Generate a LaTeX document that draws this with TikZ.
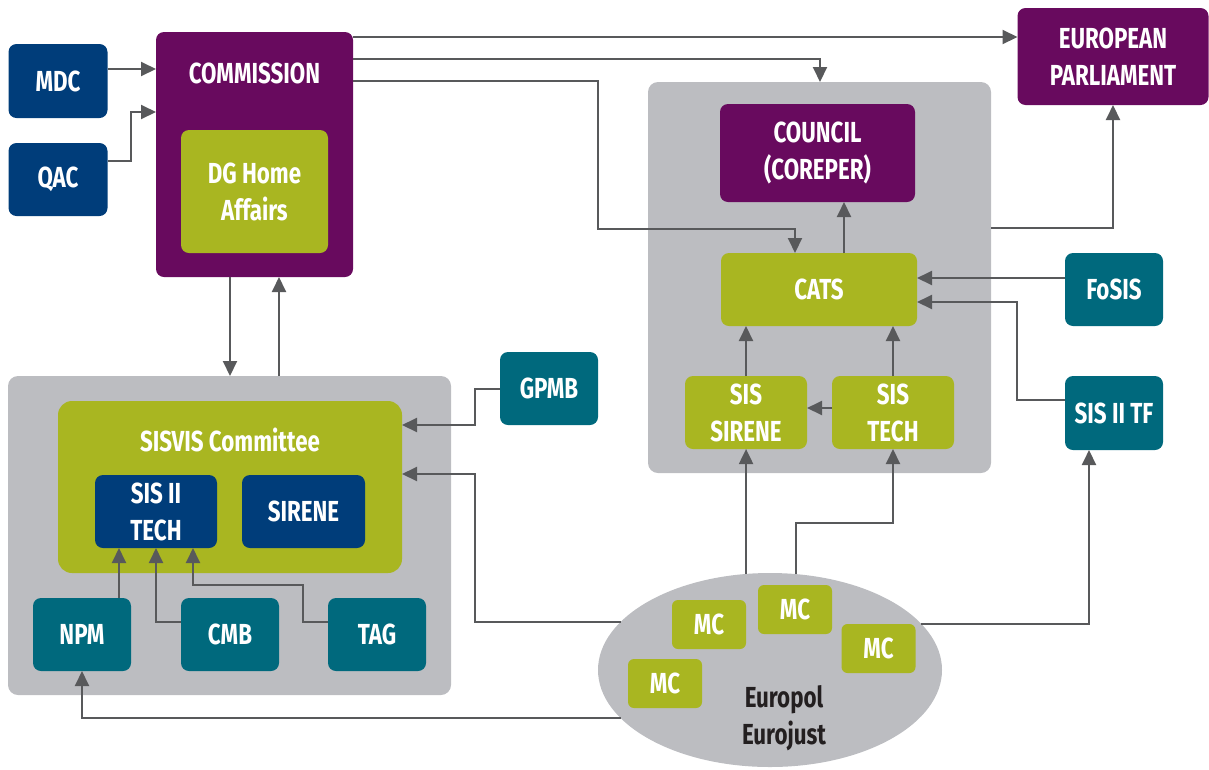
\documentclass[tikz,border=0pt]{standalone}
\usepackage{fontspec}
\setmainfont{Fira Sans}[FakeStretch=0.77]
\usetikzlibrary{arrows.meta,shapes.geometric}
\definecolor{cpurple}{RGB}{104,10,94}
\definecolor{cblue}{RGB}{0,61,122}
\definecolor{cteal}{RGB}{0,105,125}
\definecolor{cgreen}{RGB}{169,182,33}
\definecolor{cpanel}{RGB}{188,189,193}
\definecolor{cline}{RGB}{88,89,91}
\definecolor{cdark}{RGB}{35,31,32}
\newcommand\lbl{\fontsize{29}{37}\selectfont\bfseries}
\begin{document}
\begin{tikzpicture}[x=1pt,y=-1pt,
  box/.style={rounded corners=8pt, inner sep=0pt, outer sep=0pt, text=white, font=\lbl, align=center},
  pbox/.style={box, fill=cpurple},
  bbox/.style={box, fill=cblue},
  tbox/.style={box, fill=cteal},
  gbox/.style={box, fill=cgreen},
  panel/.style={rounded corners=10pt, fill=cpanel, inner sep=0pt, outer sep=0pt},
  txt/.style={inner sep=0pt, text=white, font=\lbl, align=center},
  arr/.style={draw=cline, line width=2pt, -{Triangle[length=15pt,width=14pt]}},
  mc/.style={gbox, minimum width=74pt, minimum height=49pt, rounded corners=6pt}]
\useasboundingbox (0,0) rectangle (1209,769);
% panels
\node[panel, minimum width=343pt, minimum height=391pt] (cpan) at (819.5,277.5) {};
\node[panel, minimum width=443pt, minimum height=319pt] (span) at (229.5,535.5) {};
% left top
\node[bbox, minimum width=99pt, minimum height=74pt] (mdc) at (58,81) {MDC};
\node[bbox, minimum width=99pt, minimum height=73pt] (qac) at (58,179.5) {QAC};
\node[pbox, minimum width=197pt, minimum height=245pt] (comm) at (254.5,154.5) {};
\node[txt] (commt) at (254.5,73) {COMMISSION};
\node[gbox, minimum width=147pt, minimum height=123pt] (dg) at (254.5,191.5) {DG Home\\Affairs};
% right top
\node[pbox, minimum width=191pt, minimum height=97pt] (ep) at (1113,56.5) {EUROPEAN\\PARLIAMENT};
\node[pbox, minimum width=195pt, minimum height=98pt] (council) at (817.5,153) {COUNCIL\\(COREPER)};
\node[gbox, minimum width=196pt, minimum height=73pt] (cats) at (819,289.5) {CATS};
\node[gbox, minimum width=122pt, minimum height=73pt] (sissir) at (746,412.5) {SIS\\SIRENE};
\node[gbox, minimum width=122pt, minimum height=73pt] (sistech) at (893,412.5) {SIS\\TECH};
\node[tbox, minimum width=98pt, minimum height=73pt] (fosis) at (1114,289.5) {FoSIS};
\node[tbox, minimum width=98pt, minimum height=74pt] (sistf) at (1114,413) {SIS II TF};
\node[tbox, minimum width=98pt, minimum height=73pt] (gpmb) at (549,388.5) {GPMB};
% SISVIS
\node[gbox, minimum width=344pt, minimum height=172pt, rounded corners=14pt] (sisvis) at (230,487) {};
\node[txt] (sisvist) at (230,440) {SISVIS Committee};
\node[bbox, minimum width=122pt, minimum height=73pt] (sis2) at (156,511.5) {SIS II\\TECH};
\node[bbox, minimum width=123pt, minimum height=73pt] (sirene) at (303.5,511.5) {SIRENE};
\node[tbox, minimum width=98pt, minimum height=73pt] (npm) at (82,634.5) {NPM};
\node[tbox, minimum width=98pt, minimum height=73pt] (cmb) at (230,634.5) {CMB};
\node[tbox, minimum width=98pt, minimum height=73pt] (tag) at (377,634.5) {TAG};
% ellipse
\node[ellipse, fill=cpanel, minimum width=344pt, minimum height=194pt, inner sep=0pt, outer sep=0pt] (ell) at (770,670) {};
\node[mc] (mc1) at (709,624.5) {MC};
\node[mc] (mc2) at (795,609.5) {MC};
\node[mc] (mc3) at (878.5,648.5) {MC};
\node[mc] (mc4) at (665,683.5) {MC};
\node[inner sep=0pt, text=cdark, font=\lbl, align=center] (eu) at (784,718) {Europol\\Eurojust};
% connectors
\draw[arr] (mdc.east |- 0,69) -- (comm.west |- 0,69);
\draw[arr] (qac.east |- 0,161) -- (131,161) -- (131,112) -- (comm.west |- 0,112);
\draw[arr] (comm.east |- 0,37) -- (ep.west |- 0,37);
\draw[arr] (comm.east |- 0,59) -| (cpan.north -| 820,0);
\draw[arr] (comm.east |- 0,81) -- (598,81) -- (598,229) -| (cats.north -| 795,0);
\draw[arr] (cats.north -| 844,0) -- (council.south -| 844,0);
\draw[arr] (cpan.east |- 0,228) -| (ep.south);
\draw[arr] (fosis.west |- 0,278) -- (cats.east |- 0,278);
\draw[arr] (sistf.west |- 0,400) -- (1017,400) -- (1017,302) -- (cats.east |- 0,302);
\draw[arr] (sissir.north) -- (cats.south -| sissir.north);
\draw[arr] (sistech.north) -- (cats.south -| sistech.north);
\draw[arr] (sistech.west |- 0,408) -- (sissir.east |- 0,408);
\draw[arr] (ell.104.6) -- (ell.104.6 |- sissir.south);
\draw[arr] (ell.75.4) |- (893,523) -- (sistech.south);
\draw[arr] (ell.162.2) -| (475,474) -- (sisvis.east |- 0,474);
\draw[arr] (ell.17.8) -| (sistf.south -| 1089,0);
\draw[arr] (ell.198.8) -| (npm.south);
\draw[arr] (gpmb.west |- 0,389) -| (475,425) -- (sisvis.east |- 0,425);
\draw[arr] (comm.south -| 230,0) -- (span.north -| 230,0);
\draw[arr] (span.north -| 279,0) -- (comm.south -| 279,0);
\draw[arr] (npm.north -| 119,0) -- (sis2.south -| 119,0);
\draw[arr] (cmb.west |- 0,622) -| (sis2.south -| 156,0);
\draw[arr] (tag.west |- 0,622) -| (303,585) -| (sis2.south -| 193,0);
\end{tikzpicture}
\end{document}
